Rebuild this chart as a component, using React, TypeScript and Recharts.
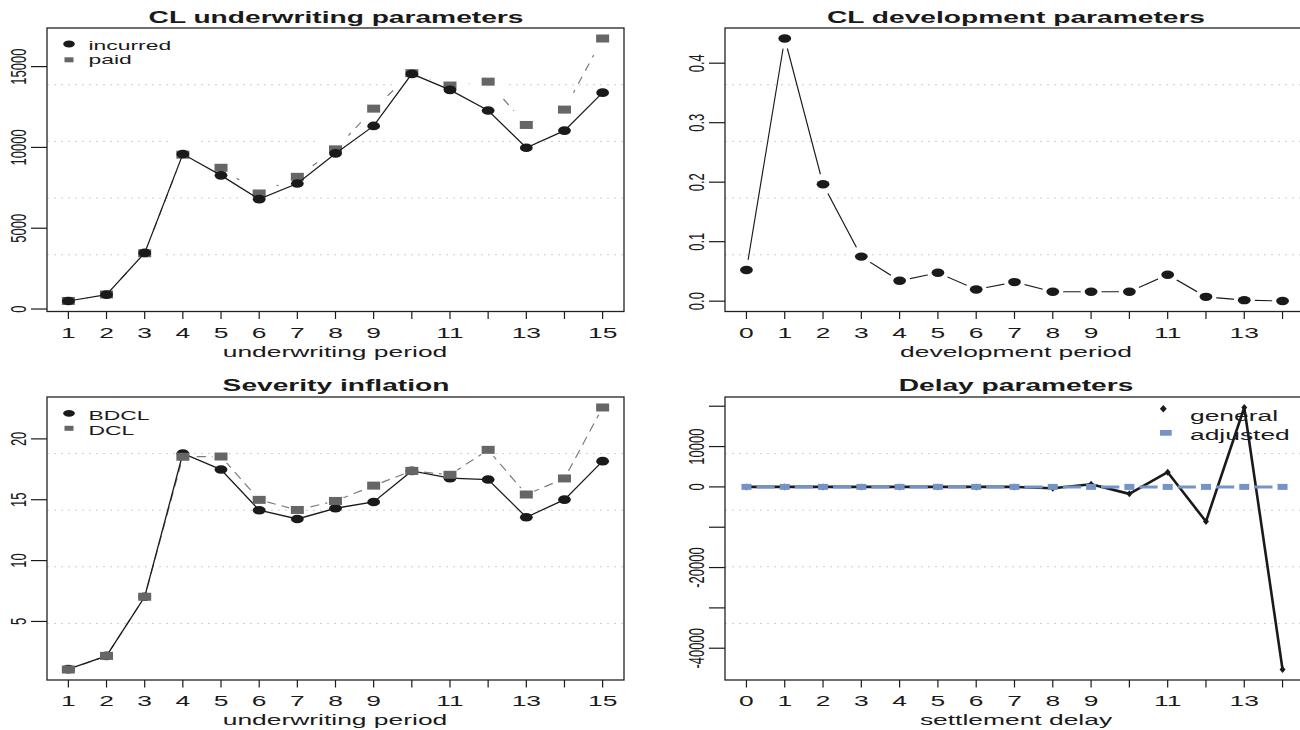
import React from 'react';
import { LineChart, Line, XAxis, YAxis, CartesianGrid } from 'recharts';

const FONT = '"Liberation Sans", Arial, Helvetica, sans-serif';
const SX = 1.76; // horizontal widening applied to every glyph
const INK = '#1a1a1a';
const GREY_MARK = '#666666';
const GREY_LINE = '#7c7c7c';
const BLUE = '#7592c9';
const GRID = '#cdcdcd';

// ---- underwriting periods (top-left and bottom-left panels)
const underwritingPeriods = [1, 2, 3, 4, 5, 6, 7, 8, 9, 10, 11, 12, 13, 14, 15];
const incurred = [496, 893, 3472, 9590, 8270, 6800, 7770, 9630, 11330, 14550, 13560, 12280, 9980, 11040, 13390];
const paid = [500, 900, 3450, 9550, 8740, 7150, 8180, 9880, 12400, 14590, 13830, 14070, 11390, 12340, 16740];
const bdcl = [1.08, 2.17, 7.03, 18.8, 17.48, 14.14, 13.42, 14.3, 14.82, 17.37, 16.77, 16.66, 13.56, 15.01, 18.17];
const dcl = [1.05, 2.17, 7.03, 18.53, 18.55, 14.99, 14.16, 14.9, 16.16, 17.37, 17.05, 19.1, 15.43, 16.75, 22.58];

// ---- development / settlement delay (right panels)
const developmentPeriods = [0, 1, 2, 3, 4, 5, 6, 7, 8, 9, 10, 11, 12, 13, 14];
const developmentParams = [0.0524, 0.4415, 0.1965, 0.0749, 0.0343, 0.0478, 0.0197, 0.0321, 0.0158, 0.0158, 0.0158, 0.0445, 0.0073, 0.0017, 0.0003];
const settlementDelays = [0, 1, 2, 3, 4, 5, 6, 7, 8, 9, 10, 11, 12, 13, 14];
const generalDelay = [0, 0, 0, 0, 0, 0, 0, 0, -330, 670, -1730, 3640, -8590, 19690, -45280];
const adjustedDelay = [0, 0, 0, 0, 0, 0, 0, 0, 0, 0, 0, 0, 0, 0, 0];

// ---- ticks and the subset that carries a label
const underwritingTickLabels = [1, 2, 3, 4, 5, 6, 7, 8, 9, 11, 13, 15];
const delayAxisTickLabels = [0, 1, 2, 3, 4, 5, 6, 7, 8, 9, 11, 13];
const clTicks = [0, 5000, 10000, 15000];
const devTicks = [0, 0.1, 0.2, 0.3, 0.4];
const sevTicks = [5, 10, 15, 20];
const delayTicks = [20000, 10000, 0, -10000, -20000, -30000, -40000];
const delayTickLabels = [10000, 0, -20000, -40000];

// R-style axis range: data range padded by 4% on each side
const rRange = (vals: number[]): [number, number] => {
  const lo = Math.min(...vals);
  const hi = Math.max(...vals);
  const pad = 0.04 * (hi - lo);
  return [lo - pad, hi + pad];
};

type Box = { left: number; top: number; right: number; bottom: number };
const CL_BOX: Box = { left: 47, top: 28, right: 624, bottom: 311.5 };
const DEV_BOX: Box = { left: 725, top: 28, right: 1304, bottom: 311.5 };
const SEV_BOX: Box = { left: 47, top: 397, right: 624, bottom: 680 };
const DELAY_BOX: Box = { left: 725, top: 397, right: 1304, bottom: 680 };

const CHART_W = 680;
const CHART_H = 365;

const frameOf = (box: Box) => {
  const wl = box.left < 650 ? 0 : 650;
  const wt = box.top < 365 ? 0 : 365;
  return {
    wl,
    wt,
    margin: { top: box.top - wt, right: CHART_W - (box.right - wl), left: 0, bottom: 0 },
    yWidth: box.left - wl,
    xHeight: CHART_H - (box.bottom - wt),
  };
};

// grid lines split the plotting region into five equal bands
const fifths = (args: any) => {
  const o = args && args.offset;
  if (!o) return [];
  return [1, 2, 3, 4].map((k) => o.top + (k * o.height) / 5);
};

const xTick = (shown: number[]) => (p: any) => {
  const v = p?.payload?.value;
  if (!shown.includes(v)) return <g key={`xt-${v}`} />;
  return (
    <text
      key={`xt-${v}`}
      transform={`translate(${p.x},${p.y + 18.8}) scale(${SX},1)`}
      textAnchor="middle"
      fontSize={15}
      fontFamily={FONT}
      fill={INK}
    >
      {String(v)}
    </text>
  );
};

const yTick = (shown: number[] | null, fmt: (v: number) => string) => (p: any) => {
  const v = p?.payload?.value;
  if (shown && !shown.includes(v)) return <g key={`yt-${v}`} />;
  return (
    <text
      key={`yt-${v}`}
      transform={`translate(${p.x - 5},${p.y}) scale(${SX},1) rotate(-90)`}
      textAnchor="middle"
      fontSize={13}
      fontFamily={FONT}
      fill={INK}
    >
      {fmt(v)}
    </text>
  );
};

// ---- point shapes
const ellipseDot = (rx: number, ry: number, fill: string, halo = 0) => (p: any) => {
  const { cx, cy, index } = p;
  if (cx == null || cy == null) return <g key={`e-${index}`} />;
  return (
    <g key={`e-${index}`}>
      {halo > 0 && <circle cx={cx} cy={cy} r={halo} fill="#ffffff" />}
      {rx > 0 && <ellipse cx={cx} cy={cy} rx={rx} ry={ry} fill={fill} />}
    </g>
  );
};

const squareDot = (w: number, h: number, fill: string, halo = 0) => (p: any) => {
  const { cx, cy, index } = p;
  if (cx == null || cy == null) return <g key={`s-${index}`} />;
  return (
    <g key={`s-${index}`}>
      {halo > 0 && <circle cx={cx} cy={cy} r={halo} fill="#ffffff" />}
      {w > 0 && <rect x={cx - w / 2} y={cy - h / 2} width={w} height={h} fill={fill} />}
    </g>
  );
};

const diamondDot = (hw: number, hh: number, fill: string) => (p: any) => {
  const { cx, cy, index } = p;
  if (cx == null || cy == null) return <g key={`d-${index}`} />;
  return (
    <polygon
      key={`d-${index}`}
      points={`${cx},${cy - hh} ${cx + hw},${cy} ${cx},${cy + hh} ${cx - hw},${cy}`}
      fill={fill}
    />
  );
};

// ---- chart tables
const clRows = underwritingPeriods.map((p, i) => ({ period: p, incurred: incurred[i], paid: paid[i] }));
const sevRows = underwritingPeriods.map((p, i) => ({ period: p, bdcl: bdcl[i], dcl: dcl[i] }));
const devRows = developmentPeriods.map((p, i) => ({ period: p, dev: developmentParams[i] }));
const delayRows = settlementDelays.map((p, i) => ({ period: p, general: generalDelay[i], adjusted: adjustedDelay[i] }));

const uwDomain = rRange(underwritingPeriods);
const devDomain = rRange(developmentPeriods);
const delayXDomain = rRange(settlementDelays);

const tickLine = { stroke: INK, strokeWidth: 1.2 };

type AxisSpec = {
  box: Box;
  xDomain: [number, number];
  xTicks: number[];
  xShown: number[];
  yDomain: [number, number];
  yTicks: number[];
  yShown: number[] | null;
  fmt: (v: number) => string;
};

// axes; when `bare` is set they only reserve space so stacked layers share one plot area
function Axes(s: AxisSpec, bare: boolean) {
  const f = frameOf(s.box);
  return [
    <XAxis
      key="x"
      dataKey="period"
      type="number"
      domain={s.xDomain}
      ticks={s.xTicks}
      interval={0}
      height={f.xHeight}
      axisLine={false}
      tickLine={bare ? false : tickLine}
      tickSize={7.5}
      tickMargin={0}
      tick={bare ? false : xTick(s.xShown)}
      allowDecimals
    />,
    <YAxis
      key="y"
      type="number"
      domain={s.yDomain}
      ticks={s.yTicks}
      interval={0}
      width={f.yWidth}
      axisLine={false}
      tickLine={bare ? false : tickLine}
      tickSize={16}
      tickMargin={0}
      tick={bare ? false : yTick(s.yShown, s.fmt)}
      allowDecimals
    />,
  ];
}

const wrapStyle = (box: Box): React.CSSProperties => {
  const f = frameOf(box);
  return { position: 'absolute', left: f.wl, top: f.wt, width: CHART_W, height: CHART_H };
};
const layerStyle: React.CSSProperties = { position: 'absolute', left: 0, top: 0 };

const clAxes: AxisSpec = {
  box: CL_BOX,
  xDomain: uwDomain,
  xTicks: underwritingPeriods,
  xShown: underwritingTickLabels,
  yDomain: rRange([...incurred, ...paid]),
  yTicks: clTicks,
  yShown: null,
  fmt: (v) => String(v),
};

function ClPanel() {
  const f = frameOf(CL_BOX);
  return (
    <div style={wrapStyle(CL_BOX)}>
      <div style={layerStyle}>
        <LineChart width={CHART_W} height={CHART_H} data={clRows} margin={f.margin}>
          <CartesianGrid vertical={false} stroke={GRID} strokeDasharray="2 5" horizontalCoordinatesGenerator={fifths} />
          <Line
            dataKey="paid"
            stroke={GREY_LINE}
            strokeWidth={1.2}
            strokeDasharray="8 7"
            dot={squareDot(13, 8, GREY_MARK, 19)}
            activeDot={false}
            isAnimationActive={false}
          />
          {Axes(clAxes, true)}
        </LineChart>
      </div>
      <div style={layerStyle}>
        <LineChart width={CHART_W} height={CHART_H} data={clRows} margin={f.margin}>
          <Line
            dataKey="incurred"
            stroke={INK}
            strokeWidth={1.25}
            dot={ellipseDot(6.4, 4.3, INK)}
            activeDot={false}
            isAnimationActive={false}
          />
          {Axes(clAxes, false)}
        </LineChart>
      </div>
    </div>
  );
}

const devAxes: AxisSpec = {
  box: DEV_BOX,
  xDomain: devDomain,
  xTicks: developmentPeriods,
  xShown: delayAxisTickLabels,
  yDomain: rRange(developmentParams),
  yTicks: devTicks,
  yShown: null,
  fmt: (v) => v.toFixed(1),
};

function DevPanel() {
  const f = frameOf(DEV_BOX);
  return (
    <div style={wrapStyle(DEV_BOX)}>
      <div style={layerStyle}>
        <LineChart width={CHART_W} height={CHART_H} data={devRows} margin={f.margin}>
          <CartesianGrid vertical={false} stroke={GRID} strokeDasharray="2 5" horizontalCoordinatesGenerator={fifths} />
          <Line
            dataKey="dev"
            stroke={INK}
            strokeWidth={1.15}
            dot={ellipseDot(6.4, 4.2, INK, 10.5)}
            activeDot={false}
            isAnimationActive={false}
          />
          {Axes(devAxes, false)}
        </LineChart>
      </div>
    </div>
  );
}

const sevAxes: AxisSpec = {
  box: SEV_BOX,
  xDomain: uwDomain,
  xTicks: underwritingPeriods,
  xShown: underwritingTickLabels,
  yDomain: rRange([...bdcl, ...dcl]),
  yTicks: sevTicks,
  yShown: null,
  fmt: (v) => String(v),
};

function SevPanel() {
  const f = frameOf(SEV_BOX);
  return (
    <div style={wrapStyle(SEV_BOX)}>
      <div style={layerStyle}>
        <LineChart width={CHART_W} height={CHART_H} data={sevRows} margin={f.margin}>
          <CartesianGrid vertical={false} stroke={GRID} strokeDasharray="2 5" horizontalCoordinatesGenerator={fifths} />
          <Line
            dataKey="dcl"
            stroke={GREY_LINE}
            strokeWidth={1.2}
            strokeDasharray="9 6"
            dot={squareDot(0, 0, GREY_MARK, 8.5)}
            activeDot={false}
            isAnimationActive={false}
          />
          {Axes(sevAxes, true)}
        </LineChart>
      </div>
      <div style={layerStyle}>
        <LineChart width={CHART_W} height={CHART_H} data={sevRows} margin={f.margin}>
          <Line
            dataKey="bdcl"
            stroke={INK}
            strokeWidth={1.3}
            dot={ellipseDot(6.4, 4.3, INK)}
            activeDot={false}
            isAnimationActive={false}
          />
          <Line
            dataKey="dcl"
            stroke="none"
            dot={squareDot(13, 8, GREY_MARK)}
            activeDot={false}
            isAnimationActive={false}
          />
          {Axes(sevAxes, false)}
        </LineChart>
      </div>
    </div>
  );
}

const delayAxes: AxisSpec = {
  box: DELAY_BOX,
  xDomain: delayXDomain,
  xTicks: settlementDelays,
  xShown: delayAxisTickLabels,
  yDomain: rRange([...generalDelay, ...adjustedDelay]),
  yTicks: delayTicks,
  yShown: delayTickLabels,
  fmt: (v) => String(v),
};

function DelayPanel() {
  const f = frameOf(DELAY_BOX);
  const unitPx = (DELAY_BOX.right - DELAY_BOX.left) / (delayXDomain[1] - delayXDomain[0]);
  const gap = 10;
  const dash = `0 ${gap} ${(unitPx - 2 * gap).toFixed(2)} ${gap}`;
  return (
    <div style={wrapStyle(DELAY_BOX)}>
      <div style={layerStyle}>
        <LineChart width={CHART_W} height={CHART_H} data={delayRows} margin={f.margin}>
          <CartesianGrid vertical={false} stroke={GRID} strokeDasharray="2 5" horizontalCoordinatesGenerator={fifths} />
          <Line
            dataKey="general"
            stroke={INK}
            strokeWidth={2.6}
            strokeLinejoin="round"
            dot={diamondDot(3, 3.5, INK)}
            activeDot={false}
            isAnimationActive={false}
          />
          <Line
            dataKey="adjusted"
            stroke={BLUE}
            strokeWidth={3}
            strokeDasharray={dash}
            dot={squareDot(10, 6, BLUE)}
            activeDot={false}
            isAnimationActive={false}
          />
          {Axes(delayAxes, false)}
        </LineChart>
      </div>
    </div>
  );
}

const Txt = ({ x, y, size, bold, anchor = 'middle', children }: any) => (
  <text
    transform={`translate(${x},${y}) scale(${SX},1)`}
    textAnchor={anchor}
    fontSize={size}
    fontWeight={bold ? 'bold' : 'normal'}
    fontFamily={FONT}
    fill={INK}
  >
    {children}
  </text>
);

const Frame = ({ box }: { box: Box }) => (
  <rect
    x={box.left}
    y={box.top}
    width={box.right - box.left}
    height={box.bottom - box.top}
    fill="none"
    stroke="#222"
    strokeWidth={1.3}
  />
);

function Decorations() {
  return (
    <svg width={1300} height={730} style={{ position: 'absolute', left: 0, top: 0, pointerEvents: 'none' }}>
      <Frame box={CL_BOX} />
      <Frame box={DEV_BOX} />
      <Frame box={SEV_BOX} />
      <Frame box={DELAY_BOX} />

      <Txt x={336} y={23} size={16} bold>CL underwriting parameters</Txt>
      <Txt x={1016} y={23} size={16} bold>CL development parameters</Txt>
      <Txt x={336} y={391} size={16} bold>Severity inflation</Txt>
      <Txt x={1016} y={391} size={16} bold>Delay parameters</Txt>

      <Txt x={335} y={356.5} size={15}>underwriting period</Txt>
      <Txt x={1016} y={356.5} size={15}>development period</Txt>
      <Txt x={335} y={725} size={15}>underwriting period</Txt>
      <Txt x={1016} y={725} size={15}>settlement delay</Txt>

      {/* legend: CL underwriting */}
      <ellipse cx={69} cy={44} rx={5.8} ry={3.4} fill={INK} />
      <Txt x={88.5} y={49.5} size={13} anchor="start">incurred</Txt>
      <rect x={64.5} y={57.3} width={9} height={5} fill={GREY_MARK} />
      <Txt x={88.5} y={64} size={13} anchor="start">paid</Txt>

      {/* legend: severity inflation */}
      <ellipse cx={69} cy={413.3} rx={5.8} ry={3.4} fill={INK} />
      <Txt x={88.5} y={419.5} size={13} anchor="start">BDCL</Txt>
      <rect x={64.5} y={425.8} width={9} height={5} fill={GREY_MARK} />
      <Txt x={88.5} y={434.5} size={13} anchor="start">DCL</Txt>

      {/* legend: delay parameters */}
      <polygon points="1163.3,405 1166.7,408.7 1163.3,412.4 1159.9,408.7" fill={INK} />
      <Txt x={1190} y={420.5} size={15} anchor="start">general</Txt>
      <rect x={1160} y={430} width={11.7} height={5.7} fill={BLUE} />
      <Txt x={1190} y={439.5} size={15} anchor="start">adjusted</Txt>
    </svg>
  );
}

export default function App() {
  return (
    <div style={{ position: 'absolute', left: 0, top: 0, width: 1300, height: 730, overflow: 'hidden', background: '#ffffff' }}>
      <ClPanel />
      <DevPanel />
      <SevPanel />
      <DelayPanel />
      <Decorations />
    </div>
  );
}
